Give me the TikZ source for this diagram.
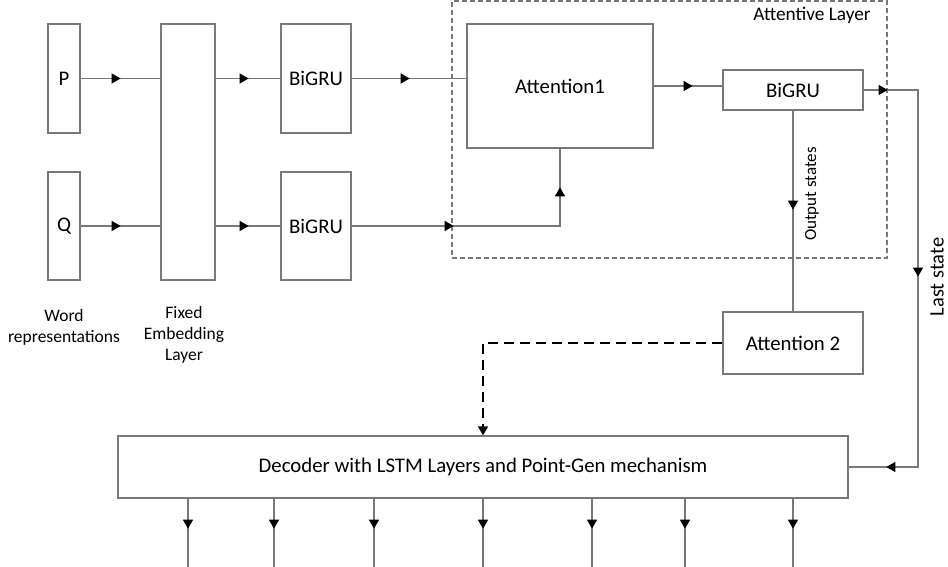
\documentclass[tikz,border=0pt]{standalone}
\usepackage{fontspec}
\setmainfont{Carlito}
\usetikzlibrary{arrows.meta,decorations.markings}
\definecolor{linegray}{RGB}{120,120,120}
\tikzset{
  box/.style={draw=linegray, line width=1.3pt, inner sep=0pt, fill=white,
    font=\fontsize{20.8}{25}\selectfont},
  conn/.style={draw=linegray, line width=1.3pt},
  tipat/.style={postaction={decorate,decoration={markings,
      mark=at position #1 with {\arrow{Triangle[length=9pt,width=10pt,color=black]}}}}},
  dashconn/.style={draw=black, line width=1.6pt, dash pattern=on 10pt off 6pt},
  layerbox/.style={draw=linegray, line width=1.1pt, dash pattern=on 5pt off 3pt, inner sep=0pt},
  lbl/.style={align=center, font=\fontsize{17.5}{21}\selectfont, inner sep=0pt},
}
\begin{document}
\begin{tikzpicture}[x=1pt,y=-1pt]
\useasboundingbox (0,0) rectangle (948,567);
% attentive layer frame
\node[layerbox, minimum width=435, minimum height=257] (al) at (669.5,129.5) {};
\node[font=\fontsize{19.3}{23}\selectfont, inner sep=0pt] (altxt) at (812,15) {Attentive Layer};
% boxes
\node[box, minimum width=32, minimum height=109] (P) at (64,78.5) {P};
\node[box, minimum width=32, minimum height=108] (Q) at (64,226) {Q};
\node[box, minimum width=54, minimum height=256] (E) at (188,152) {};
\node[box, minimum width=70, minimum height=109] (B1) at (316,78.5) {BiGRU};
\node[box, minimum width=70, minimum height=108] (B2) at (316,226) {BiGRU};
\node[box, minimum width=186, minimum height=124] (A1) at (560,86) {Attention1};
\node[box, minimum width=140, minimum height=40] (B3) at (793,90) {BiGRU};
\node[box, minimum width=140, minimum height=62] (A2) at (793,343) {Attention 2};
\node[box, minimum width=730, minimum height=62] (D) at (483,467) {Decoder with LSTM Layers and Point-Gen mechanism};
% labels
\node[lbl] (wr) at (64,327) {Word\\representations};
\node[lbl] (fe) at (184,335) {Fixed\\Embedding\\Layer};
% connectors
\draw[conn, tipat=40pt] (P.east) -- (P.east -| E.west);
\draw[conn, tipat=40pt] (Q.east) -- (Q.east -| E.west);
\draw[conn, tipat=33pt] (B1.west -| E.east) -- (B1.west);
\draw[conn, tipat=33pt] (B2.west -| E.east) -- (B2.west);
\draw[conn, tipat=58pt] (B1.east) -- (B1.east -| A1.west);
\draw[conn, tipat=102pt, tipat=247pt] (B2.east) -| (A1.south);
\draw[conn, tipat=39pt] (A1.east) -- (A1.east -| B3.west);
\coordinate (lsx) at (918,90);
\draw[conn, tipat=24pt, tipat=241pt, tipat=463pt] (B3.east) -- (B3.east -| lsx) |- (D.east);
\draw[conn, tipat=99pt] (B3.south) -- (A2.north);
\draw[dashconn, -{Triangle[length=9pt,width=10pt,color=black]}] (A2.west) -| (D.north);
\node[rotate=90, font=\fontsize{17}{20}\selectfont, inner sep=0pt] (os) at (812,194) {Output states};
\node[rotate=90, font=\fontsize{20.5}{24}\selectfont, inner sep=0pt] (lst) at (937,277) {Last state};
% decoder outputs
\foreach \i/\x in {1/188,2/274,3/374,4/483,5/592,6/685,7/793}{
  \coordinate (o\i) at (\x,567);
  \draw[conn, tipat=30pt] (o\i |- D.south) -- (o\i);
}
\end{tikzpicture}
\end{document}
